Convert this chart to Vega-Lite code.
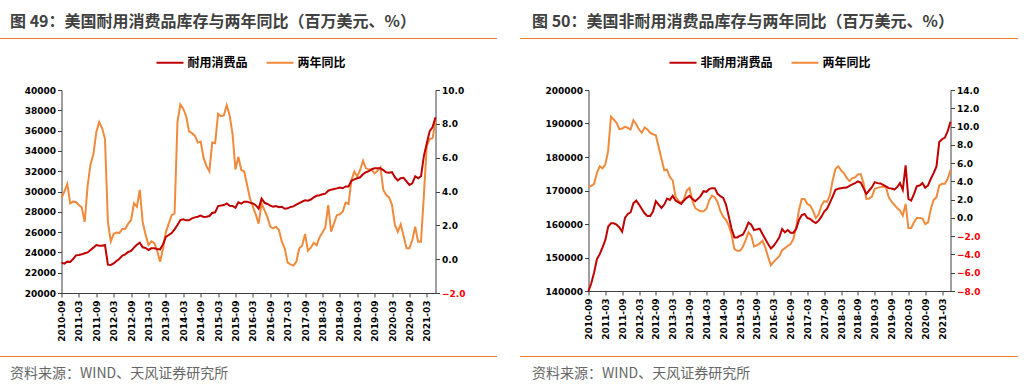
{
 "$schema": "https://vega.github.io/schema/vega-lite/v6.json",
 "background": "white",
 "padding": {"left": 0, "top": 14, "right": 0, "bottom": 0},
 "datasets": {
  "dur": [
   {"d":"2010-09","inv":22990,"yoy":3.63},{"d":"2010-10","inv":22890,"yoy":4.0},{"d":"2010-11","inv":23090,"yoy":4.45},{"d":"2010-12","inv":23050,"yoy":3.3},
   {"d":"2011-01","inv":23350,"yoy":3.4},{"d":"2011-02","inv":23710,"yoy":3.38},{"d":"2011-03","inv":23740,"yoy":3.2},{"d":"2011-04","inv":23810,"yoy":3.05},{"d":"2011-05","inv":23910,"yoy":2.2},{"d":"2011-06","inv":24000,"yoy":4.3},{"d":"2011-07","inv":24240,"yoy":5.6},{"d":"2011-08","inv":24470,"yoy":6.2},{"d":"2011-09","inv":24730,"yoy":7.5},{"d":"2011-10","inv":24660,"yoy":8.1},{"d":"2011-11","inv":24660,"yoy":7.75},{"d":"2011-12","inv":24730,"yoy":7.1},
   {"d":"2012-01","inv":22790,"yoy":2.2},{"d":"2012-02","inv":22760,"yoy":1.05},{"d":"2012-03","inv":22920,"yoy":1.5},{"d":"2012-04","inv":23150,"yoy":1.57},{"d":"2012-05","inv":23380,"yoy":1.55},{"d":"2012-06","inv":23680,"yoy":1.78},{"d":"2012-07","inv":23810,"yoy":1.8},{"d":"2012-08","inv":24040,"yoy":2.1},{"d":"2012-09","inv":24140,"yoy":2.3},{"d":"2012-10","inv":24470,"yoy":3.3},{"d":"2012-11","inv":24760,"yoy":3.1},{"d":"2012-12","inv":24960,"yoy":4.1},
   {"d":"2013-01","inv":24500,"yoy":2.2},{"d":"2013-02","inv":24430,"yoy":1.45},{"d":"2013-03","inv":24240,"yoy":0.84},{"d":"2013-04","inv":24400,"yoy":1.05},{"d":"2013-05","inv":24400,"yoy":0.95},{"d":"2013-06","inv":24330,"yoy":0.5},{"d":"2013-07","inv":24300,"yoy":-0.15},{"d":"2013-08","inv":24790,"yoy":0.6},{"d":"2013-09","inv":25520,"yoy":1.6},{"d":"2013-10","inv":25710,"yoy":2.1},{"d":"2013-11","inv":25910,"yoy":2.6},{"d":"2013-12","inv":26270,"yoy":2.7},
   {"d":"2014-01","inv":26700,"yoy":8.1},{"d":"2014-02","inv":27190,"yoy":9.15},{"d":"2014-03","inv":27260,"yoy":8.9},{"d":"2014-04","inv":27160,"yoy":8.45},{"d":"2014-05","inv":27160,"yoy":7.55},{"d":"2014-06","inv":27350,"yoy":7.45},{"d":"2014-07","inv":27450,"yoy":7.3},{"d":"2014-08","inv":27520,"yoy":6.9},{"d":"2014-09","inv":27620,"yoy":6.95},{"d":"2014-10","inv":27490,"yoy":6.0},{"d":"2014-11","inv":27520,"yoy":5.5},{"d":"2014-12","inv":27580,"yoy":5.2},
   {"d":"2015-01","inv":27880,"yoy":6.9},{"d":"2015-02","inv":27950,"yoy":6.85},{"d":"2015-03","inv":28570,"yoy":8.6},{"d":"2015-04","inv":28630,"yoy":8.45},{"d":"2015-05","inv":28670,"yoy":8.5},{"d":"2015-06","inv":28830,"yoy":9.1},{"d":"2015-07","inv":28600,"yoy":8.5},{"d":"2015-08","inv":28570,"yoy":7.4},{"d":"2015-09","inv":28400,"yoy":5.3},{"d":"2015-10","inv":28930,"yoy":6.06},{"d":"2015-11","inv":28800,"yoy":5.27},{"d":"2015-12","inv":29000,"yoy":5.2},
   {"d":"2016-01","inv":29000,"yoy":4.4},{"d":"2016-02","inv":28900,"yoy":3.6},{"d":"2016-03","inv":28820,"yoy":3.1},{"d":"2016-04","inv":28650,"yoy":2.65},{"d":"2016-05","inv":28300,"yoy":2.1},{"d":"2016-06","inv":29300,"yoy":3.3},{"d":"2016-07","inv":28900,"yoy":2.9},{"d":"2016-08","inv":28770,"yoy":2.5},{"d":"2016-09","inv":28600,"yoy":1.92},{"d":"2016-10","inv":28500,"yoy":1.82},{"d":"2016-11","inv":28560,"yoy":1.92},{"d":"2016-12","inv":28450,"yoy":1.72},
   {"d":"2017-01","inv":28500,"yoy":1.03},{"d":"2017-02","inv":28300,"yoy":0.64},{"d":"2017-03","inv":28340,"yoy":-0.21},{"d":"2017-04","inv":28480,"yoy":-0.31},{"d":"2017-05","inv":28530,"yoy":-0.38},{"d":"2017-06","inv":28700,"yoy":-0.15},{"d":"2017-07","inv":28850,"yoy":0.64},{"d":"2017-08","inv":29000,"yoy":0.8},{"d":"2017-09","inv":29140,"yoy":1.49},{"d":"2017-10","inv":29100,"yoy":0.5},{"d":"2017-11","inv":29210,"yoy":0.68},{"d":"2017-12","inv":29420,"yoy":0.97},
   {"d":"2018-01","inv":29580,"yoy":0.82},{"d":"2018-02","inv":29640,"yoy":1.29},{"d":"2018-03","inv":29720,"yoy":1.57},{"d":"2018-04","inv":29790,"yoy":1.88},{"d":"2018-05","inv":30080,"yoy":3.2},{"d":"2018-06","inv":30180,"yoy":1.62},{"d":"2018-07","inv":30250,"yoy":2.12},{"d":"2018-08","inv":30310,"yoy":2.61},{"d":"2018-09","inv":30400,"yoy":2.65},{"d":"2018-10","inv":30320,"yoy":2.81},{"d":"2018-11","inv":30500,"yoy":3.34},{"d":"2018-12","inv":30500,"yoy":3.26},
   {"d":"2019-01","inv":31050,"yoy":4.68},{"d":"2019-02","inv":31200,"yoy":5.17},{"d":"2019-03","inv":31300,"yoy":4.88},{"d":"2019-04","inv":31400,"yoy":5.27},{"d":"2019-05","inv":31700,"yoy":5.82},{"d":"2019-06","inv":31900,"yoy":5.37},{"d":"2019-07","inv":32000,"yoy":5.31},{"d":"2019-08","inv":32200,"yoy":5.27},{"d":"2019-09","inv":32280,"yoy":5.07},{"d":"2019-10","inv":32280,"yoy":5.23},{"d":"2019-11","inv":32280,"yoy":5.43},{"d":"2019-12","inv":32100,"yoy":4.09},
   {"d":"2020-01","inv":31900,"yoy":3.79},{"d":"2020-02","inv":31850,"yoy":3.65},{"d":"2020-03","inv":31900,"yoy":3.2},{"d":"2020-04","inv":31400,"yoy":2.02},{"d":"2020-05","inv":31100,"yoy":1.62},{"d":"2020-06","inv":31300,"yoy":2.06},{"d":"2020-07","inv":31350,"yoy":1.37},{"d":"2020-08","inv":31000,"yoy":0.64},{"d":"2020-09","inv":30650,"yoy":0.64},{"d":"2020-10","inv":30800,"yoy":1.13},{"d":"2020-11","inv":31500,"yoy":1.92},{"d":"2020-12","inv":31300,"yoy":1.03},
   {"d":"2021-01","inv":31500,"yoy":1.03},{"d":"2021-02","inv":33500,"yoy":3.8},{"d":"2021-03","inv":34750,"yoy":6.7},{"d":"2021-04","inv":35950,"yoy":7.1},{"d":"2021-05","inv":36350,"yoy":7.15},{"d":"2021-06","inv":37300,"yoy":8.2}
  ],
  "nondur": [
   {"d":"2010-09","inv":140000,"yoy":3.37},{"d":"2010-10","inv":142300,"yoy":3.51},{"d":"2010-11","inv":145500,"yoy":3.73},{"d":"2010-12","inv":149500,"yoy":4.91},
   {"d":"2011-01","inv":151000,"yoy":5.64},{"d":"2011-02","inv":153000,"yoy":5.42},{"d":"2011-03","inv":155200,"yoy":5.86},{"d":"2011-04","inv":159200,"yoy":7.33},{"d":"2011-05","inv":160200,"yoy":11.07},{"d":"2011-06","inv":160200,"yoy":10.77},{"d":"2011-07","inv":159800,"yoy":10.41},{"d":"2011-08","inv":159000,"yoy":9.71},{"d":"2011-09","inv":157700,"yoy":9.78},{"d":"2011-10","inv":161800,"yoy":9.97},{"d":"2011-11","inv":163000,"yoy":9.86},{"d":"2011-12","inv":163500,"yoy":9.67},
   {"d":"2012-01","inv":166200,"yoy":10.7},{"d":"2012-02","inv":167000,"yoy":10.26},{"d":"2012-03","inv":165800,"yoy":9.67},{"d":"2012-04","inv":164500,"yoy":9.31},{"d":"2012-05","inv":163200,"yoy":9.89},{"d":"2012-06","inv":162400,"yoy":9.67},{"d":"2012-07","inv":162400,"yoy":9.31},{"d":"2012-08","inv":163800,"yoy":9.16},{"d":"2012-09","inv":166800,"yoy":9.05},{"d":"2012-10","inv":165800,"yoy":7.77},{"d":"2012-11","inv":164800,"yoy":6.48},{"d":"2012-12","inv":165800,"yoy":5.2},
   {"d":"2013-01","inv":167600,"yoy":5.27},{"d":"2013-02","inv":167200,"yoy":4.47},{"d":"2013-03","inv":168400,"yoy":4.1},{"d":"2013-04","inv":167000,"yoy":2.34},{"d":"2013-05","inv":166500,"yoy":1.9},{"d":"2013-06","inv":166000,"yoy":1.64},{"d":"2013-07","inv":167000,"yoy":2.01},{"d":"2013-08","inv":167800,"yoy":3.0},{"d":"2013-09","inv":168400,"yoy":3.29},{"d":"2013-10","inv":167500,"yoy":1.9},{"d":"2013-11","inv":166800,"yoy":1.09},{"d":"2013-12","inv":167500,"yoy":0.87},
   {"d":"2014-01","inv":168400,"yoy":0.73},{"d":"2014-02","inv":169800,"yoy":0.73},{"d":"2014-03","inv":169600,"yoy":0.98},{"d":"2014-04","inv":170400,"yoy":1.9},{"d":"2014-05","inv":170700,"yoy":2.45},{"d":"2014-06","inv":170700,"yoy":2.27},{"d":"2014-07","inv":169000,"yoy":1.72},{"d":"2014-08","inv":168300,"yoy":0.73},{"d":"2014-09","inv":167800,"yoy":0.14},{"d":"2014-10","inv":165800,"yoy":-0.23},{"d":"2014-11","inv":162200,"yoy":-0.85},{"d":"2014-12","inv":158500,"yoy":-1.84},
   {"d":"2015-01","inv":156000,"yoy":-3.42},{"d":"2015-02","inv":156000,"yoy":-3.6},{"d":"2015-03","inv":156500,"yoy":-3.6},{"d":"2015-04","inv":156800,"yoy":-3.16},{"d":"2015-05","inv":158400,"yoy":-2.43},{"d":"2015-06","inv":160400,"yoy":-1.58},{"d":"2015-07","inv":159800,"yoy":-1.95},{"d":"2015-08","inv":158200,"yoy":-3.12},{"d":"2015-09","inv":158400,"yoy":-3.01},{"d":"2015-10","inv":158600,"yoy":-2.79},{"d":"2015-11","inv":157000,"yoy":-2.5},{"d":"2015-12","inv":155500,"yoy":-3.23},
   {"d":"2016-01","inv":154000,"yoy":-4.26},{"d":"2016-02","inv":152700,"yoy":-5.18},{"d":"2016-03","inv":153500,"yoy":-4.81},{"d":"2016-04","inv":154700,"yoy":-4.48},{"d":"2016-05","inv":156000,"yoy":-4.19},{"d":"2016-06","inv":158500,"yoy":-3.53},{"d":"2016-07","inv":157500,"yoy":-3.31},{"d":"2016-08","inv":158200,"yoy":-3.05},{"d":"2016-09","inv":157400,"yoy":-2.87},{"d":"2016-10","inv":157400,"yoy":-2.32},{"d":"2016-11","inv":158500,"yoy":-1.03},{"d":"2016-12","inv":161200,"yoy":0.87},
   {"d":"2017-01","inv":162700,"yoy":2.08},{"d":"2017-02","inv":163000,"yoy":2.08},{"d":"2017-03","inv":161800,"yoy":1.53},{"d":"2017-04","inv":161500,"yoy":1.35},{"d":"2017-05","inv":160800,"yoy":0.8},{"d":"2017-06","inv":160300,"yoy":-0.01},{"d":"2017-07","inv":161000,"yoy":0.36},{"d":"2017-08","inv":162200,"yoy":1.35},{"d":"2017-09","inv":163700,"yoy":1.83},{"d":"2017-10","inv":164600,"yoy":1.75},{"d":"2017-11","inv":166300,"yoy":2.45},{"d":"2017-12","inv":168200,"yoy":4.1},
   {"d":"2018-01","inv":170200,"yoy":5.35},{"d":"2018-02","inv":170500,"yoy":5.64},{"d":"2018-03","inv":170700,"yoy":5.2},{"d":"2018-04","inv":170800,"yoy":4.91},{"d":"2018-05","inv":170900,"yoy":4.39},{"d":"2018-06","inv":171400,"yoy":4.03},{"d":"2018-07","inv":171800,"yoy":4.36},{"d":"2018-08","inv":172200,"yoy":4.43},{"d":"2018-09","inv":172700,"yoy":4.76},{"d":"2018-10","inv":172400,"yoy":4.8},{"d":"2018-11","inv":170700,"yoy":3.81},{"d":"2018-12","inv":169000,"yoy":2.08},
   {"d":"2019-01","inv":170000,"yoy":2.12},{"d":"2019-02","inv":171000,"yoy":2.34},{"d":"2019-03","inv":172500,"yoy":3.18},{"d":"2019-04","inv":172200,"yoy":3.29},{"d":"2019-05","inv":172100,"yoy":3.37},{"d":"2019-06","inv":171700,"yoy":3.44},{"d":"2019-07","inv":171200,"yoy":3.37},{"d":"2019-08","inv":170700,"yoy":2.27},{"d":"2019-09","inv":170600,"yoy":1.79},{"d":"2019-10","inv":170300,"yoy":1.42},{"d":"2019-11","inv":171000,"yoy":1.09},{"d":"2019-12","inv":172200,"yoy":0.8},
   {"d":"2020-01","inv":170200,"yoy":0.25},{"d":"2020-02","inv":177500,"yoy":1.53},{"d":"2020-03","inv":167500,"yoy":-1.11},{"d":"2020-04","inv":167000,"yoy":-1.11},{"d":"2020-05","inv":169000,"yoy":-0.48},{"d":"2020-06","inv":171300,"yoy":-0.01},{"d":"2020-07","inv":171500,"yoy":-0.01},{"d":"2020-08","inv":172200,"yoy":-0.08},{"d":"2020-09","inv":170800,"yoy":-0.67},{"d":"2020-10","inv":171500,"yoy":-0.48},{"d":"2020-11","inv":173500,"yoy":0.98},{"d":"2020-12","inv":175200,"yoy":1.97},
   {"d":"2021-01","inv":177200,"yoy":2.27},{"d":"2021-02","inv":184500,"yoy":3.55},{"d":"2021-03","inv":185300,"yoy":3.73},{"d":"2021-04","inv":185800,"yoy":3.73},{"d":"2021-05","inv":187700,"yoy":4.28},{"d":"2021-06","inv":190500,"yoy":5.27}
  ]
 },
 "config": {
  "view": {"stroke": null},
  "font": "DejaVu Sans",
  "axis": {"grid": false, "domainColor": "#404040", "domainWidth": 1, "tickColor": "#404040", "tickSize": 4, "labelFont": "DejaVu Sans", "labelFontSize": 9, "labelFontWeight": "bold", "labelColor": "#000000", "labelPadding": 2, "title": null},
  "legend": {"symbolType": "stroke", "symbolSize": 729, "symbolStrokeWidth": 2, "labelFont": "Noto Sans CJK SC", "labelFontSize": 12, "labelFontWeight": "bold", "labelColor": "#000000", "labelOffset": 3, "columnPadding": 14}
 },
 "spacing": 14,
 "center": true,
 "vconcat": [
  {
   "spacing": 9,
   "center": true,
   "vconcat": [
    {
     "spacing": 23,
     "hconcat": [
      {
       "width": 497, "height": 1,
       "data": {"values": []},
       "mark": {"type": "point", "opacity": 0},
       "view": {"fill": "#ED7D31", "stroke": null},
       "title": {"text": "图 49：美国耐用消费品库存与两年同比（百万美元、%）", "orient": "top", "anchor": "start", "offset": 8, "dx": 10, "font": "Noto Sans CJK SC", "fontSize": 16, "fontWeight": "bold", "color": "#404040"}
      },
      {
       "width": 498, "height": 1,
       "data": {"values": []},
       "mark": {"type": "point", "opacity": 0},
       "view": {"fill": "#ED7D31", "stroke": null},
       "title": {"text": "图 50：美国非耐用消费品库存与两年同比（百万美元、%）", "orient": "top", "anchor": "start", "offset": 8, "dx": 12, "font": "Noto Sans CJK SC", "fontSize": 16, "fontWeight": "bold", "color": "#404040"}
      },
      {
       "width": 39, "height": 1,
       "data": {"values": []},
       "mark": {"type": "point", "opacity": 0},
       "view": {"fill": null, "stroke": null}
      }
     ]
    },
    {
     "spacing": 50,
     "resolve": {"scale": {"color": "independent"}, "legend": {"color": "independent"}},
     "hconcat": [
      {
       "width": 374, "height": 203,
       "data": {"name": "dur"},
       "encoding": {
        "x": {"field": "d", "type": "ordinal", "scale": {"type": "point", "padding": 0},
              "axis": {"values": ["2010-09","2011-03","2011-09","2012-03","2012-09","2013-03","2013-09","2014-03","2014-09","2015-03","2015-09","2016-03","2016-09","2017-03","2017-09","2018-03","2018-09","2019-03","2019-09","2020-03","2020-09","2021-03"], "labelAngle": -90, "labelPadding": 3}}
       },
       "layer": [
        {
         "mark": {"type": "line", "strokeWidth": 2},
         "encoding": {
          "y": {"field": "yoy", "type": "quantitative", "scale": {"domain": [-2, 10], "nice": false, "zero": false},
                "axis": {"orient": "right", "values": [-2, 0, 2, 4, 6, 8, 10], "format": ".1f", "minExtent": 35, "labelColor": {"condition": {"test": "datum.value < 0", "value": "#FF0000"}, "value": "#000000"}}},
          "color": {"datum": "两年同比", "type": "nominal", "scale": {"domain": ["耐用消费品", "两年同比"], "range": ["#C00000", "#F08A3C"]},
                    "legend": {"orient": "none", "legendX": 94, "legendY": -42, "direction": "horizontal", "title": null}}
         }
        },
        {
         "mark": {"type": "line", "strokeWidth": 2},
         "encoding": {
          "y": {"field": "inv", "type": "quantitative", "scale": {"domain": [20000, 40000], "nice": false, "zero": false},
                "axis": {"orient": "left", "values": [20000, 22000, 24000, 26000, 28000, 30000, 32000, 34000, 36000, 38000, 40000], "format": "d", "minExtent": 61}},
          "color": {"datum": "耐用消费品", "type": "nominal", "scale": {"domain": ["耐用消费品", "两年同比"], "range": ["#C00000", "#F08A3C"]},
                    "legend": {"orient": "none", "legendX": 94, "legendY": -42, "direction": "horizontal", "title": null}}
         }
        }
       ],
       "resolve": {"scale": {"y": "independent"}}
      },
      {
       "width": 362, "height": 201,
       "data": {"name": "nondur"},
       "encoding": {
        "x": {"field": "d", "type": "ordinal", "scale": {"type": "point", "padding": 0},
              "axis": {"values": ["2010-09","2011-03","2011-09","2012-03","2012-09","2013-03","2013-09","2014-03","2014-09","2015-03","2015-09","2016-03","2016-09","2017-03","2017-09","2018-03","2018-09","2019-03","2019-09","2020-03","2020-09","2021-03"], "labelAngle": -90, "labelPadding": 3}}
       },
       "layer": [
        {
         "mark": {"type": "line", "strokeWidth": 2},
         "encoding": {
          "y": {"field": "yoy", "type": "quantitative", "scale": {"domain": [-8, 14], "nice": false, "zero": false},
                "axis": {"orient": "right", "values": [-8, -6, -4, -2, 0, 2, 4, 6, 8, 10, 12, 14], "format": ".1f", "minExtent": 68, "labelColor": {"condition": {"test": "datum.value < 0", "value": "#FF0000"}, "value": "#000000"}}},
          "color": {"datum": "两年同比", "type": "nominal", "scale": {"domain": ["非耐用消费品", "两年同比"], "range": ["#C00000", "#F08A3C"]},
                    "legend": {"orient": "none", "legendX": 80, "legendY": -42, "direction": "horizontal", "title": null}}
         }
        },
        {
         "mark": {"type": "line", "strokeWidth": 2},
         "encoding": {
          "y": {"field": "inv", "type": "quantitative", "scale": {"domain": [140000, 200000], "nice": false, "zero": false},
                "axis": {"orient": "left", "values": [140000, 150000, 160000, 170000, 180000, 190000, 200000], "format": "d", "minExtent": 68}},
          "color": {"datum": "非耐用消费品", "type": "nominal", "scale": {"domain": ["非耐用消费品", "两年同比"], "range": ["#C00000", "#F08A3C"]},
                    "legend": {"orient": "none", "legendX": 80, "legendY": -42, "direction": "horizontal", "title": null}}
         }
        }
       ],
       "resolve": {"scale": {"y": "independent"}}
      }
     ]
    }
   ]
  },
  {
   "spacing": 23,
   "hconcat": [
    {
     "width": 497, "height": 1,
     "data": {"values": []},
     "mark": {"type": "point", "opacity": 0},
     "view": {"fill": "#ED7D31", "stroke": null},
     "title": {"text": "资料来源：WIND、天风证券研究所", "orient": "bottom", "anchor": "start", "offset": 10, "dx": 10, "font": "Noto Sans CJK SC", "fontSize": 14, "fontWeight": "normal", "color": "#666666"}
    },
    {
     "width": 498, "height": 1,
     "data": {"values": []},
     "mark": {"type": "point", "opacity": 0},
     "view": {"fill": "#ED7D31", "stroke": null},
     "title": {"text": "资料来源：WIND、天风证券研究所", "orient": "bottom", "anchor": "start", "offset": 10, "dx": 12, "font": "Noto Sans CJK SC", "fontSize": 14, "fontWeight": "normal", "color": "#666666"}
    },
    {
     "width": 39, "height": 1,
     "data": {"values": []},
     "mark": {"type": "point", "opacity": 0},
     "view": {"fill": null, "stroke": null}
    }
   ]
  }
 ]
}
